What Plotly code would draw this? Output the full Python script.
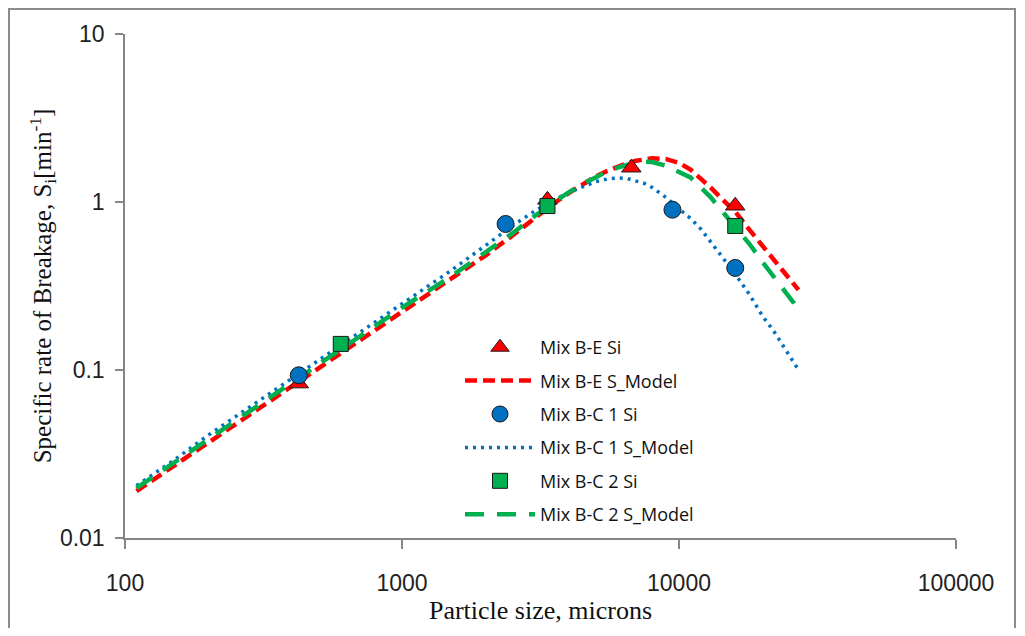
import plotly.graph_objects as go

# ---- data ----
x_model = [110, 150, 200, 300, 400, 600, 800, 1000, 1500, 2000, 2500, 3000, 3500, 4000,
           4500, 5000, 5500, 6000, 6500, 7000, 7500, 8000, 9000, 10000, 11000, 12000,
           13000, 14000, 15000, 16000, 18000, 20000, 22000, 24000, 26000, 27000]

be_model = [0.019, 0.027, 0.037, 0.058, 0.080, 0.125, 0.172, 0.22, 0.345, 0.48, 0.63, 0.80,
            0.97, 1.13, 1.28, 1.42, 1.53, 1.62, 1.70, 1.76, 1.80, 1.82, 1.80, 1.71, 1.56,
            1.38, 1.22, 1.08, 0.96, 0.87, 0.68, 0.55, 0.45, 0.38, 0.32, 0.30]

bc1_model = [0.0205, 0.029, 0.041, 0.064, 0.089, 0.14, 0.193, 0.25, 0.39, 0.55, 0.72, 0.88,
             1.02, 1.14, 1.24, 1.32, 1.37, 1.39, 1.38, 1.34, 1.29, 1.22, 1.06, 0.91, 0.80,
             0.69, 0.58, 0.49, 0.43, 0.37, 0.28, 0.21, 0.17, 0.135, 0.11, 0.10]

bc2_model = [0.0198, 0.028, 0.039, 0.061, 0.085, 0.133, 0.183, 0.235, 0.36, 0.50, 0.65, 0.82,
             0.99, 1.14, 1.29, 1.40, 1.52, 1.60, 1.67, 1.72, 1.74, 1.73, 1.64, 1.52, 1.40,
             1.22, 1.07, 0.92, 0.80, 0.71, 0.56, 0.44, 0.36, 0.30, 0.25, 0.22]

be_x = [424, 3350, 6730, 15960]
be_y = [0.083, 1.03, 1.60, 0.95]

bc1_x = [424, 2366, 9470, 15960]
bc1_y = [0.093, 0.74, 0.90, 0.405]

bc2_x = [601, 3350, 15960]
bc2_y = [0.143, 0.946, 0.72]

x_ticks = [100, 1000, 10000, 100000]
x_tick_labels = ["100", "1000", "10000", "100000"]
y_ticks = [0.01, 0.1, 1, 10]
y_tick_labels = ["0.01", "0.1", "1", "10"]

RED = "#FF0000"
BLUE = "#0070C0"
GREEN = "#00B050"

fig = go.Figure()

# model lines first (drawn under markers)
fig.add_trace(go.Scatter(x=x_model, y=be_model, mode="lines", name="Mix B-E S_Model",
                         line=dict(color=RED, width=4.5, dash="12px,6px"),
                         legendrank=2, legendgroup="g2"))
fig.add_trace(go.Scatter(x=x_model, y=bc1_model, mode="lines", name="Mix B-C 1 S_Model",
                         line=dict(color=BLUE, width=3.5, dash="3px,5px"),
                         legendrank=4, legendgroup="g4"))
fig.add_trace(go.Scatter(x=x_model, y=bc2_model, mode="lines", name="Mix B-C 2 S_Model",
                         line=dict(color=GREEN, width=4.5, dash="19px,13px"),
                         legendrank=6, legendgroup="g6"))

fig.add_trace(go.Scatter(x=be_x, y=be_y, mode="markers", name="Mix B-E Si",
                         marker=dict(symbol="triangle-up", size=17, color=RED,
                                     line=dict(color="#1a1a1a", width=1)),
                         legendrank=1, legendgroup="g1"))
fig.add_trace(go.Scatter(x=bc1_x, y=bc1_y, mode="markers", name="Mix B-C 1 Si",
                         marker=dict(symbol="circle", size=17, color=BLUE,
                                     line=dict(color="#1a1a1a", width=1)),
                         legendrank=3, legendgroup="g3"))
fig.add_trace(go.Scatter(x=bc2_x, y=bc2_y, mode="markers", name="Mix B-C 2 Si",
                         marker=dict(symbol="square", size=15, color=GREEN,
                                     line=dict(color="#1a1a1a", width=1)),
                         legendrank=5, legendgroup="g5"))

axis_line = "#868686"

fig.update_xaxes(type="log", range=[2, 5], tickvals=x_ticks, ticktext=x_tick_labels,
                 automargin=False,
                 showgrid=False, zeroline=False, showline=True, linecolor=axis_line,
                 linewidth=1.5, ticks="outside", ticklen=9, tickcolor=axis_line, tickwidth=1.5,
                 ticklabelstandoff=15,
                 tickfont=dict(family="Liberation Sans, Arial", size=23, color="#222"),
                 title=dict(text="Particle size, microns", standoff=4,
                            font=dict(family="Liberation Serif, Times New Roman", size=26,
                                      color="#111")))
fig.update_yaxes(type="log", range=[-2, 1], tickvals=y_ticks, ticktext=y_tick_labels,
                 automargin=False,
                 showgrid=False, zeroline=False, showline=True, linecolor=axis_line,
                 linewidth=1.5, ticks="outside", ticklen=8, tickcolor=axis_line, tickwidth=1.5,
                 ticklabelstandoff=6,
                 tickfont=dict(family="Liberation Sans, Arial", size=23, color="#222"),
                 title=dict(text="Specific rate of Breakage, S<sub>i</sub>[min<sup>-1</sup>]",
                            standoff=1,
                            font=dict(family="Liberation Serif, Times New Roman", size=25,
                                      color="#111")))

# the page body adds an 8px offset; target pixel positions are in screenshot coords
OFF = 8
W, H = 1025 - 2 * OFF, 636 - 2 * OFF
pw, ph = 831, 504
L, T = 125 - OFF, 34 - OFF
R, B = W - L - pw, H - T - ph

def fx(px):
    # figure pixel -> paper x
    return (px - L) / pw

def fy(py):
    # figure pixel -> paper y
    return (T + ph - py) / ph

# outer chart frame (drawn just inside the figure edges)
fig.add_shape(type="rect", xref="paper", yref="paper",
              x0=fx(1), x1=fx(W - 2), y0=fy(H + 20), y1=fy(1),
              line=dict(color="#8c8c8c", width=2), fillcolor="rgba(0,0,0,0)", layer="below")

fig.update_layout(
    width=W, height=H,
    margin=dict(l=L, r=R, t=T, b=B, autoexpand=False),
    paper_bgcolor="white", plot_bgcolor="white",
    legend=dict(x=fx(460 - OFF), y=fy(329 - OFF), xanchor="left", yanchor="top",
                bgcolor="rgba(0,0,0,0)", tracegroupgap=7, traceorder="grouped",
                itemwidth=70,
                font=dict(family="Open Sans, sans-serif", size=18, color="#111")),
    showlegend=True,
)

fig.write_html("out.html")
